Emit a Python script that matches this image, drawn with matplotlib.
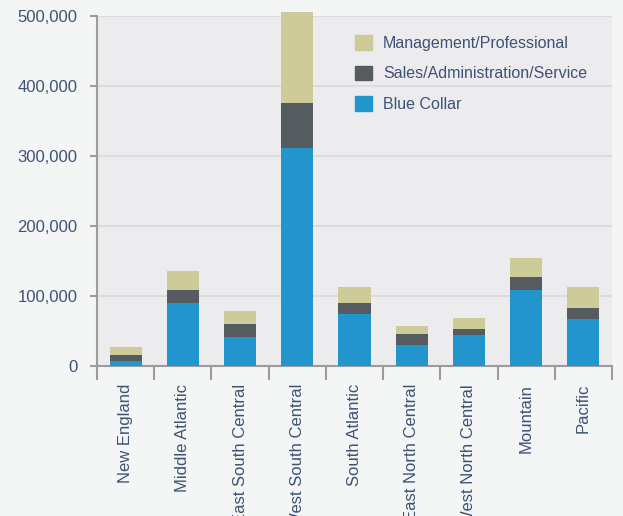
import matplotlib
matplotlib.use("Agg")
import matplotlib.pyplot as plt
import numpy as np
from matplotlib.patches import Patch
from matplotlib.ticker import FuncFormatter

regions = ["New England", "Middle Atlantic", "East South Central", "West South Central",
           "South Atlantic", "East North Central", "West North Central", "Mountain", "Pacific"]
blue_collar = [7000, 90000, 41500, 311500, 74500, 30000, 44500, 108500, 67000]
sales_admin = [8500, 18500, 18500, 64000, 15500, 15500, 8500, 18500, 16000]
management = [11500, 27000, 18500, 130000, 23000, 11500, 15500, 27000, 30000]
y_ticks = [0, 100000, 200000, 300000, 400000, 500000]

C_BLUE = "#2195cc"
C_GRAY = "#565b60"
C_TAN = "#cdcb98"
C_TEXT = "#3e5274"
C_AXIS = "#9c9c9c"

plt.rcParams["font.family"] = ["Liberation Sans", "DejaVu Sans"]

fig = plt.figure(figsize=(6.23, 5.16), dpi=100, facecolor="#f4f5f5")
ax = fig.add_axes([0.1557, 0.2907, 0.8266, 0.6783])
ax.set_facecolor("#ececee")

x = np.arange(len(regions))
w = 0.56
bc = np.array(blue_collar)
sa = np.array(sales_admin)
mg = np.array(management)
ax.bar(x, bc, w, color=C_BLUE, clip_on=False, zorder=3)
ax.bar(x, sa, w, bottom=bc, color=C_GRAY, clip_on=False, zorder=3)
ax.bar(x, mg, w, bottom=bc + sa, color=C_TAN, clip_on=False, zorder=3)

ax.set_xlim(-0.5, len(regions) - 0.5)
ax.set_ylim(0, 500000)
ax.set_yticks(y_ticks)
ax.yaxis.set_major_formatter(FuncFormatter(lambda v, p: f"{int(v):,}"))
ax.grid(axis="y", color="#dcdcdf", linewidth=1.5, zorder=1)
ax.set_axisbelow(True)

# labels hang under the axis; boundary ticks separate the regions
ax.set_xticks(x)
ax.set_xticklabels(regions, rotation=90, va="top", ha="center")
ax.set_xticks(np.arange(len(regions) + 1) - 0.5, minor=True)
ax.tick_params(axis="x", which="major", length=0, pad=13, labelsize=12, labelcolor=C_TEXT)
ax.tick_params(axis="x", which="minor", length=10, width=1.5, color=C_AXIS, direction="out")
ax.tick_params(axis="y", length=5, width=1.5, color=C_AXIS, labelsize=12,
               labelcolor=C_TEXT, pad=9)

for s in ["top", "right"]:
    ax.spines[s].set_visible(False)
for s in ["left", "bottom"]:
    ax.spines[s].set_color(C_AXIS)
    ax.spines[s].set_linewidth(1.5)

handles = [Patch(color=C_TAN), Patch(color=C_GRAY), Patch(color=C_BLUE)]
labels = ["Management/Professional", "Sales/Administration/Service", "Blue Collar"]
leg = ax.legend(handles, labels, loc="upper left", bbox_to_anchor=(0.570, 0.932),
                bbox_transform=fig.transFigure, frameon=False, fontsize=11.5,
                handlelength=1.05, handleheight=1.05, handletextpad=0.7,
                labelspacing=0.92, borderpad=0, borderaxespad=0)
for t in leg.get_texts():
    t.set_color(C_TEXT)

fig.savefig("out.png", dpi=100, facecolor=fig.get_facecolor())
